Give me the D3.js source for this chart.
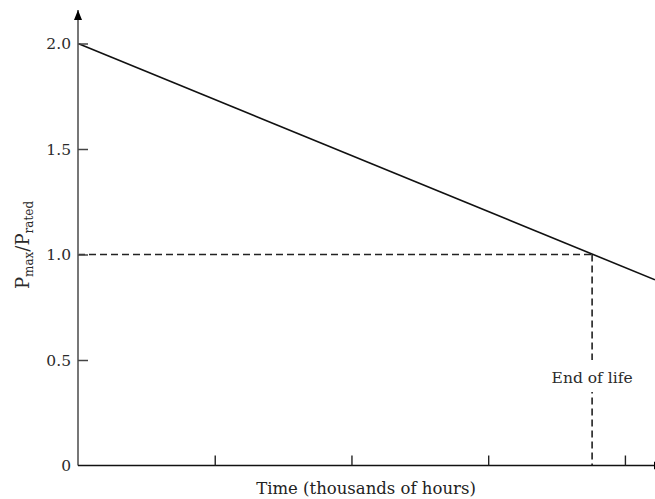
<!DOCTYPE html>
<html><head><meta charset="utf-8">
<script src="https://cdn.jsdelivr.net/npm/d3@7"></script>
<style>body{margin:0;background:#fff;}svg{display:block;}</style>
</head><body>
<script>
// Data
const lineTime = [0, 4.22];
const lineValue = [2.0, 0.88];
const endOfLifeTime = 3.76;
const endOfLifeValue = 1.0;
const yTicks = [0, 0.5, 1.0, 1.5, 2.0];
const yTickLabels = ["0", "0.5", "1.0", "1.5", "2.0"];
const xTicks = [1, 2, 3, 4];
const xLabel = "Time (thousands of hours)";
const endLabel = "End of life";

const W = 655, H = 499;
const font = "'DejaVu Serif', serif";
const svg = d3.select("body").append("svg").attr("width", W).attr("height", H);

const x = d3.scaleLinear().domain([0, 4.22]).range([78, 655]);
const y = d3.scaleLinear().domain([0, 2]).range([465.5, 43.5]);

const defs = svg.append("defs");
defs.append("marker").attr("id", "arr").attr("viewBox", "0 0 10 10")
  .attr("refX", 10).attr("refY", 5).attr("markerWidth", 10).attr("markerHeight", 10)
  .attr("markerUnits", "userSpaceOnUse").attr("orient", "auto")
  .append("path").attr("d", "M0,1 L10,5 L0,9 Z").attr("fill", "#000");

// dashed guides
svg.append("line").attr("x1", x(0)).attr("x2", x(endOfLifeTime))
  .attr("y1", y(endOfLifeValue)).attr("y2", y(endOfLifeValue))
  .attr("stroke", "#222").attr("stroke-width", 1.6).attr("stroke-dasharray", "7,4");
svg.append("line").attr("x1", x(endOfLifeTime)).attr("x2", x(endOfLifeTime))
  .attr("y1", y(endOfLifeValue)).attr("y2", y(0))
  .attr("stroke", "#222").attr("stroke-width", 1.6).attr("stroke-dasharray", "7,4");

// end of life label with white background
const lbl = svg.append("g");
lbl.append("rect").attr("x", x(endOfLifeTime) - 46).attr("y", 360).attr("width", 92).attr("height", 32).attr("fill", "#fff");
lbl.append("text").attr("x", x(endOfLifeTime)).attr("y", 383).attr("text-anchor", "middle")
  .attr("font-family", font).attr("font-size", 15.5).attr("fill", "#2a2a2a").text(endLabel);

// main line
const data = lineTime.map((t, i) => [t, lineValue[i]]);
svg.append("path").datum(data)
  .attr("d", d3.line().x(d => x(d[0])).y(d => y(d[1])))
  .attr("fill", "none").attr("stroke", "#111").attr("stroke-width", 1.6);

// y axis
svg.append("line").attr("x1", x(0)).attr("x2", x(0)).attr("y1", y(0)).attr("y2", 10)
  .attr("stroke", "#777").attr("stroke-width", 2).attr("marker-end", "url(#arr)");
const yAxis = d3.axisRight(y).tickValues(yTicks).tickSize(10).tickFormat("");
const gy = svg.append("g").attr("transform", `translate(${x(0)},0)`).call(yAxis);
gy.select(".domain").remove();
gy.selectAll(".tick line").attr("stroke", "#444").attr("stroke-width", 1.5);
gy.selectAll(".tick").filter(d => d === 0).select("line").remove();
yTicks.forEach((v, i) => {
  svg.append("text").attr("x", 71).attr("y", y(v)).attr("dy", "0.36em")
    .attr("text-anchor", "end").attr("font-family", font).attr("font-size", 15.5)
    .attr("fill", "#2a2a2a").text(yTickLabels[i]);
});

// x axis
svg.append("line").attr("x1", x(0)).attr("x2", 664).attr("y1", y(0)).attr("y2", y(0))
  .attr("stroke", "#111").attr("stroke-width", 1.6).attr("marker-end", "url(#arr)");
const xAxis = d3.axisTop(x).tickValues(xTicks).tickSize(10).tickFormat("");
const gx = svg.append("g").attr("transform", `translate(0,${y(0)})`).call(xAxis);
gx.select(".domain").remove();
gx.selectAll(".tick line").attr("stroke", "#222").attr("stroke-width", 1.4);

svg.append("text").attr("x", 366).attr("y", 494).attr("text-anchor", "middle")
  .attr("font-family", font).attr("font-size", 16.5).attr("fill", "#222").text(xLabel);

// y label
const yl = svg.append("text").attr("transform", "translate(29,245) rotate(-90)")
  .attr("text-anchor", "middle").attr("font-family", font).attr("font-size", 18).attr("fill", "#2a2a2a");
yl.append("tspan").text("P");
yl.append("tspan").attr("font-size", 12).attr("dy", 4).text("max");
yl.append("tspan").attr("dy", -4).text("/P");
yl.append("tspan").attr("font-size", 12).attr("dy", 4).text("rated");
</script>
</body></html>
